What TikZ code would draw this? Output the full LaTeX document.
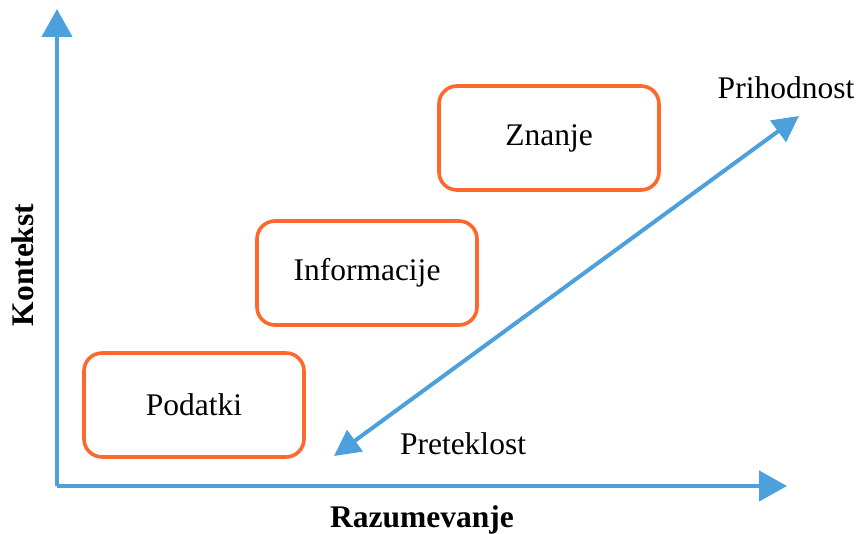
\documentclass[tikz,border=0pt]{standalone}
\usepackage{fontspec}
\setmainfont{Liberation Serif}
\usetikzlibrary{arrows.meta}
\definecolor{axisblue}{RGB}{76,160,220}
\definecolor{boxorange}{RGB}{255,104,44}
\begin{document}
\begin{tikzpicture}[x=1pt,y=-1pt,
  axisline/.style={draw=axisblue,line width=4.4pt,-{Triangle[length=28pt,width=30pt]}},
  diagline/.style={draw=axisblue,line width=4pt,{Triangle[length=26pt,width=26pt]}-{Triangle[length=26pt,width=26pt]}},
  stage/.style={draw=boxorange,line width=3.6pt,rounded corners=18pt,minimum width=220pt,minimum height=104pt,font=\fontsize{31.5}{36}\selectfont},
  lbl/.style={font=\fontsize{31.5}{36}\selectfont,inner sep=0pt},
  blbl/.style={font=\fontsize{31.5}{36}\selectfont\bfseries,inner sep=0pt}]
\useasboundingbox (0,0) rectangle (859,534);
% axes
\coordinate (origin) at (57,486);
\coordinate (ytip) at (57,9);
\coordinate (xtip) at (787,486);
\draw[axisline] (origin) -- (ytip);
\draw[axisline] (origin) -- (xtip);
% stages
\node[stage] (podatki) at (194,405) {Podatki};
\node[stage] (info) at (367,273) {Informacije};
\node[stage] (znanje) at (549,138) {Znanje};
% time arrow
\coordinate (past) at (334,456);
\coordinate (future) at (799,116);
\draw[diagline] (past) -- (future);
% labels
\node[lbl] (prih) at (786,88) {Prihodnost};
\node[lbl] (pret) at (463,444) {Preteklost};
\node[blbl] (raz) at (422,520) {Razumevanje};
\node[blbl,rotate=90] (kon) at (23,265) {Kontekst};
\end{tikzpicture}
\end{document}
